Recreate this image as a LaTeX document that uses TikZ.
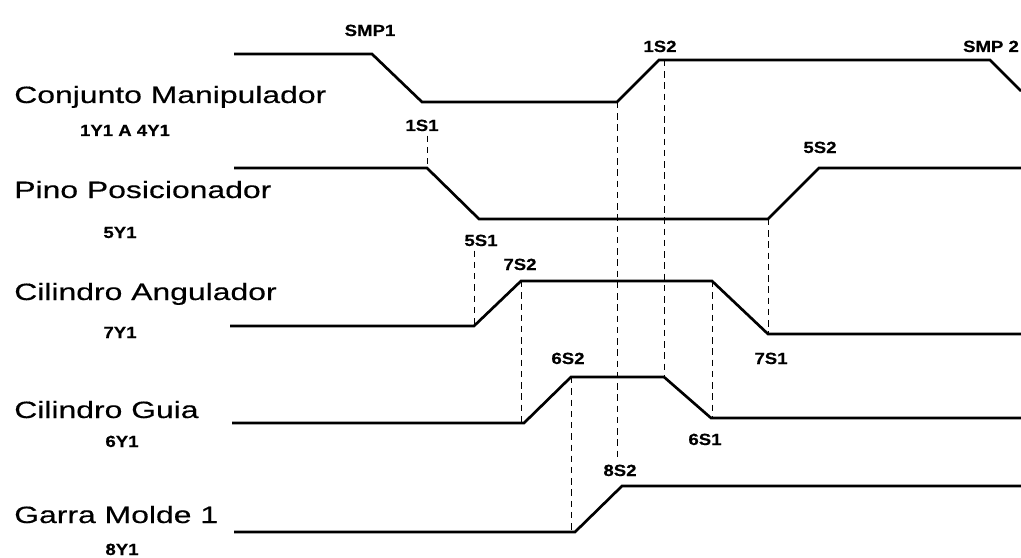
\documentclass[tikz,border=0pt]{standalone}
\usepackage{fontspec}
\setmainfont{Liberation Sans}[FakeStretch=1.35, FakeBold=0.4, BoldFeatures={FakeStretch=1.15}]
\begin{document}
\begin{tikzpicture}[x=0.025cm, y=-0.025cm,
  sinal/.style={line width=1.9pt, line join=miter},
  guia/.style={line width=0.7pt, dash pattern=on 4.5pt off 3.5pt},
  nome/.style={anchor=base west, inner sep=0pt, font=\fontsize{16.8}{19}\selectfont},
  sensor/.style={anchor=base, inner sep=0pt, font=\fontsize{11.5}{13}\selectfont\bfseries}]

  \useasboundingbox (0,0) rectangle (1021,558);

  % ==================== nomes dos atuadores ====================
  \node[nome] (nA) at (14,103) {Conjunto Manipulador};
  \node[sensor] (yA) at (125,136) {1Y1 A 4Y1};
  \node[nome] (nB) at (14,198) {Pino Posicionador};
  \node[sensor] (yB) at (120,238) {5Y1};
  \node[nome] (nC) at (14,300) {Cilindro Angulador};
  \node[sensor] (yC) at (120,338) {7Y1};
  \node[nome] (nD) at (14,418) {Cilindro Guia};
  \node[sensor] (yD) at (122,447) {6Y1};
  \node[nome] (nE) at (14,523) {Garra Molde 1};
  \node[sensor] (yE) at (122,555) {8Y1};

  % ==================== sinais ====================
  % Conjunto Manipulador
  \draw[sinal] (234,54) coordinate (a0) -- (372,54) coordinate (a1) -- (422,102) coordinate (a2)
    -- (617,102) coordinate (a3) -- (659,60) coordinate (a4) -- (990,60) coordinate (a5) -- (1021,91);
  % Pino Posicionador
  \draw[sinal] (234,168) coordinate (b0) -- (427,168) coordinate (b1) -- (479,219) coordinate (b2)
    -- (768,219) coordinate (b3) -- (819,168) coordinate (b4) -- (1021,168);
  % Cilindro Angulador
  \draw[sinal] (230,326) coordinate (c0) -- (474,326) coordinate (c1) -- (521,281) coordinate (c2)
    -- (712,281) coordinate (c3) -- (768,334) coordinate (c4) -- (1021,334);
  % Cilindro Guia
  \draw[sinal] (232,423) coordinate (d0) -- (524,423) coordinate (d1) -- (571,377) coordinate (d2)
    -- (664,377) coordinate (d3) -- (711,418) coordinate (d4) -- (1021,418);
  % Garra Molde 1
  \draw[sinal] (234,532) coordinate (e0) -- (575,532) coordinate (e1) -- (622,486) coordinate (e2)
    -- (1021,486);

  % ==================== sensores ====================
  \node[sensor] (smp1) at (370,36) {SMP1};
  \node[sensor] (s1S1) at (422,131) {1S1};
  \node[sensor] (s1S2) at (660,52) {1S2};
  \node[sensor] (smp2) at (991,52) {SMP 2};
  \node[sensor] (s5S1) at (481,246) {5S1};
  \node[sensor] (s5S2) at (820,153) {5S2};
  \node[sensor] (s7S2) at (520,270) {7S2};
  \node[sensor] (s7S1) at (771,364) {7S1};
  \node[sensor] (s6S2) at (568,364) {6S2};
  \node[sensor] (s6S1) at (705,445) {6S1};
  \node[sensor] (s8S2) at (620,476) {8S2};

  % ==================== linhas de sequencia ====================
  \draw[guia] ([yshift=-3pt]s1S1.south -| b1) -- (b1);
  \draw[guia] ([yshift=-3pt]s5S1.south -| c1) -- (c1);
  \draw[guia] (c2) -- (c2 |- d1);
  \draw[guia] (d2) -- (d2 |- e1);
  \draw[guia] (a3) -- ([yshift=4pt]a3 |- s8S2.north);
  \draw[guia] (d3 |- a4) -- (d3);
  \draw[guia] (c3) -- (c3 |- d4);
  \draw[guia] (b3) -- (b3 |- c4);

\end{tikzpicture}
\end{document}
